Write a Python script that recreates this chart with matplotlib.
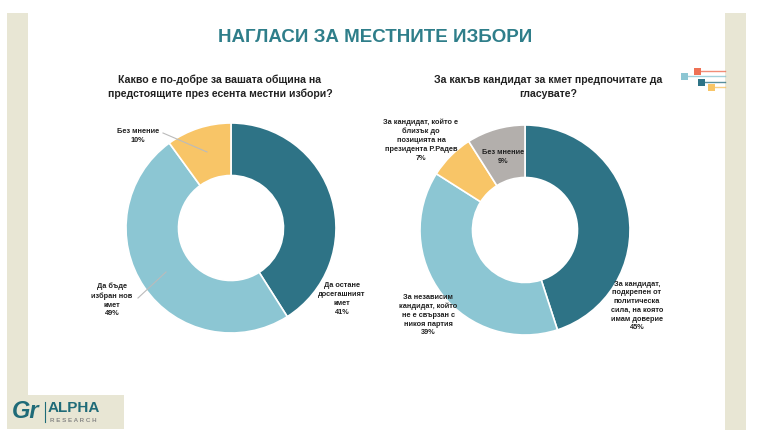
import matplotlib
matplotlib.use("Agg")
import matplotlib.pyplot as plt
from matplotlib.patches import Rectangle

plt.rcParams['font.family'] = ['Liberation Sans', 'DejaVu Sans']

# ---------------- data ----------------
title = "НАГЛАСИ ЗА МЕСТНИТЕ ИЗБОРИ"

q1 = "Какво е по-добре за вашата община на\nпредстоящите през есента местни избори?"
cats1 = ["Да остане\nдосегашният\nкмет", "Да бъде\nизбран нов\nкмет", "Без мнение"]
vals1 = [41, 49, 10]

q2 = "За какъв кандидат за кмет предпочитате да\nгласувате?"
cats2 = ["За кандидат,\nподкрепен от\nполитическа\nсила, на която\nимам доверие",
         "За независим\nкандидат, който\nне е свързан с\nникоя партия",
         "За кандидат, който е\nблизък до\nпозицията на\nпрезидента Р.Радев",
         "Без мнение"]
vals2 = [45, 39, 7, 9]

# ---------------- style / layout ----------------
DARK = "#2E7386"
LIGHT = "#8CC6D3"
YELLOW = "#F8C567"
GRAY = "#B3AFAC"
BEIGE = "#E8E6D4"
TITLE_C = "#2F7E8A"
colors1 = [DARK, LIGHT, YELLOW]
colors2 = [DARK, LIGHT, YELLOW, GRAY]

W, H = 768, 447
fig = plt.figure(figsize=(W / 100, H / 100), dpi=100)
fig.patch.set_facecolor("white")

bg = fig.add_axes([0, 0, 1, 1])
bg.set_xlim(0, W)
bg.set_ylim(H, 0)
bg.axis("off")

# beige side strips
bg.add_patch(Rectangle((7, 13), 21, 382, color=BEIGE, lw=0))
bg.add_patch(Rectangle((7, 395), 117, 34, color=BEIGE, lw=0))
bg.add_patch(Rectangle((725, 13), 21, 417, color=BEIGE, lw=0))

# decorative lines top right
deco = [(697, 71, "#EE7155"), (684, 76, "#8CC6D3"), (701, 82, DARK), (711, 87, YELLOW)]
for x, y, c in deco:
    bg.plot([x, 725], [y, y], color=c, lw=1, alpha=0.8)
    bg.add_patch(Rectangle((x - 3.5, y - 3.5), 7, 7, color=c, lw=0))

# title and questions
bg.text(375, 38, title, ha="center", va="center", fontsize=13.5, fontweight="bold",
        color=TITLE_C)
bg.text(220, 87, q1, ha="center", va="center", fontsize=7.6, fontweight="bold",
        color="#222222", linespacing=1.45)
bg.text(548, 87, q2, ha="center", va="center", fontsize=7.6, fontweight="bold",
        color="#222222", linespacing=1.45)

# logo
bg.text(12, 412, "Gr", ha="left", va="center", fontsize=17, fontweight="bold",
        style="italic", color="#1F6B78")
bg.plot([45, 45], [402, 422], color="#1F6B78", lw=0.8)
bg.text(48, 408, "ALPHA", ha="left", va="center", fontsize=11, fontweight="bold",
        color="#1F6B78")
bg.text(50, 421, "R E S E A R C H", ha="left", va="center", fontsize=4.5,
        fontweight="bold", color="#8A8A88")


def donut(cx, cy, r, vals, cols):
    ax = fig.add_axes([(cx - r) / W, 1 - (cy + r) / H, 2 * r / W, 2 * r / H])
    ax.pie(vals, colors=cols, startangle=90, counterclock=False, radius=1,
           wedgeprops=dict(width=0.5, edgecolor="white", linewidth=1.2))
    ax.set_xlim(-1, 1)
    ax.set_ylim(-1, 1)
    ax.set_aspect("equal")
    ax.axis("off")
    return ax


donut(231, 228, 105, vals1, colors1)
donut(525, 230, 105, vals2, colors2)

# overlay for labels (on top of the donuts)
top = fig.add_axes([0, 0, 1, 1])
top.set_xlim(0, W)
top.set_ylim(H, 0)
top.axis("off")
top.patch.set_alpha(0)

lab_kw = dict(ha="center", va="center", fontsize=5.3, fontweight="bold",
              color="#222222", linespacing=1.35)

# chart 1 labels
pos1 = [(342, 299), (112, 300), (138, 136)]
for (x, y), c, v in zip(pos1, cats1, vals1):
    top.text(x, y, f"{c}\n{v}%", **lab_kw)
top.plot([163, 207], [133, 152], color="#BBBBBB", lw=0.8)
top.plot([138, 166], [298, 272], color="#BBBBBB", lw=0.8)

# chart 2 labels
pos2 = [(637, 306), (428, 315), (421, 140), (503, 157)]
for (x, y), c, v in zip(pos2, cats2, vals2):
    top.text(x, y, f"{c}\n{v}%", **lab_kw)

fig.savefig("out.png", dpi=100, facecolor="white")
